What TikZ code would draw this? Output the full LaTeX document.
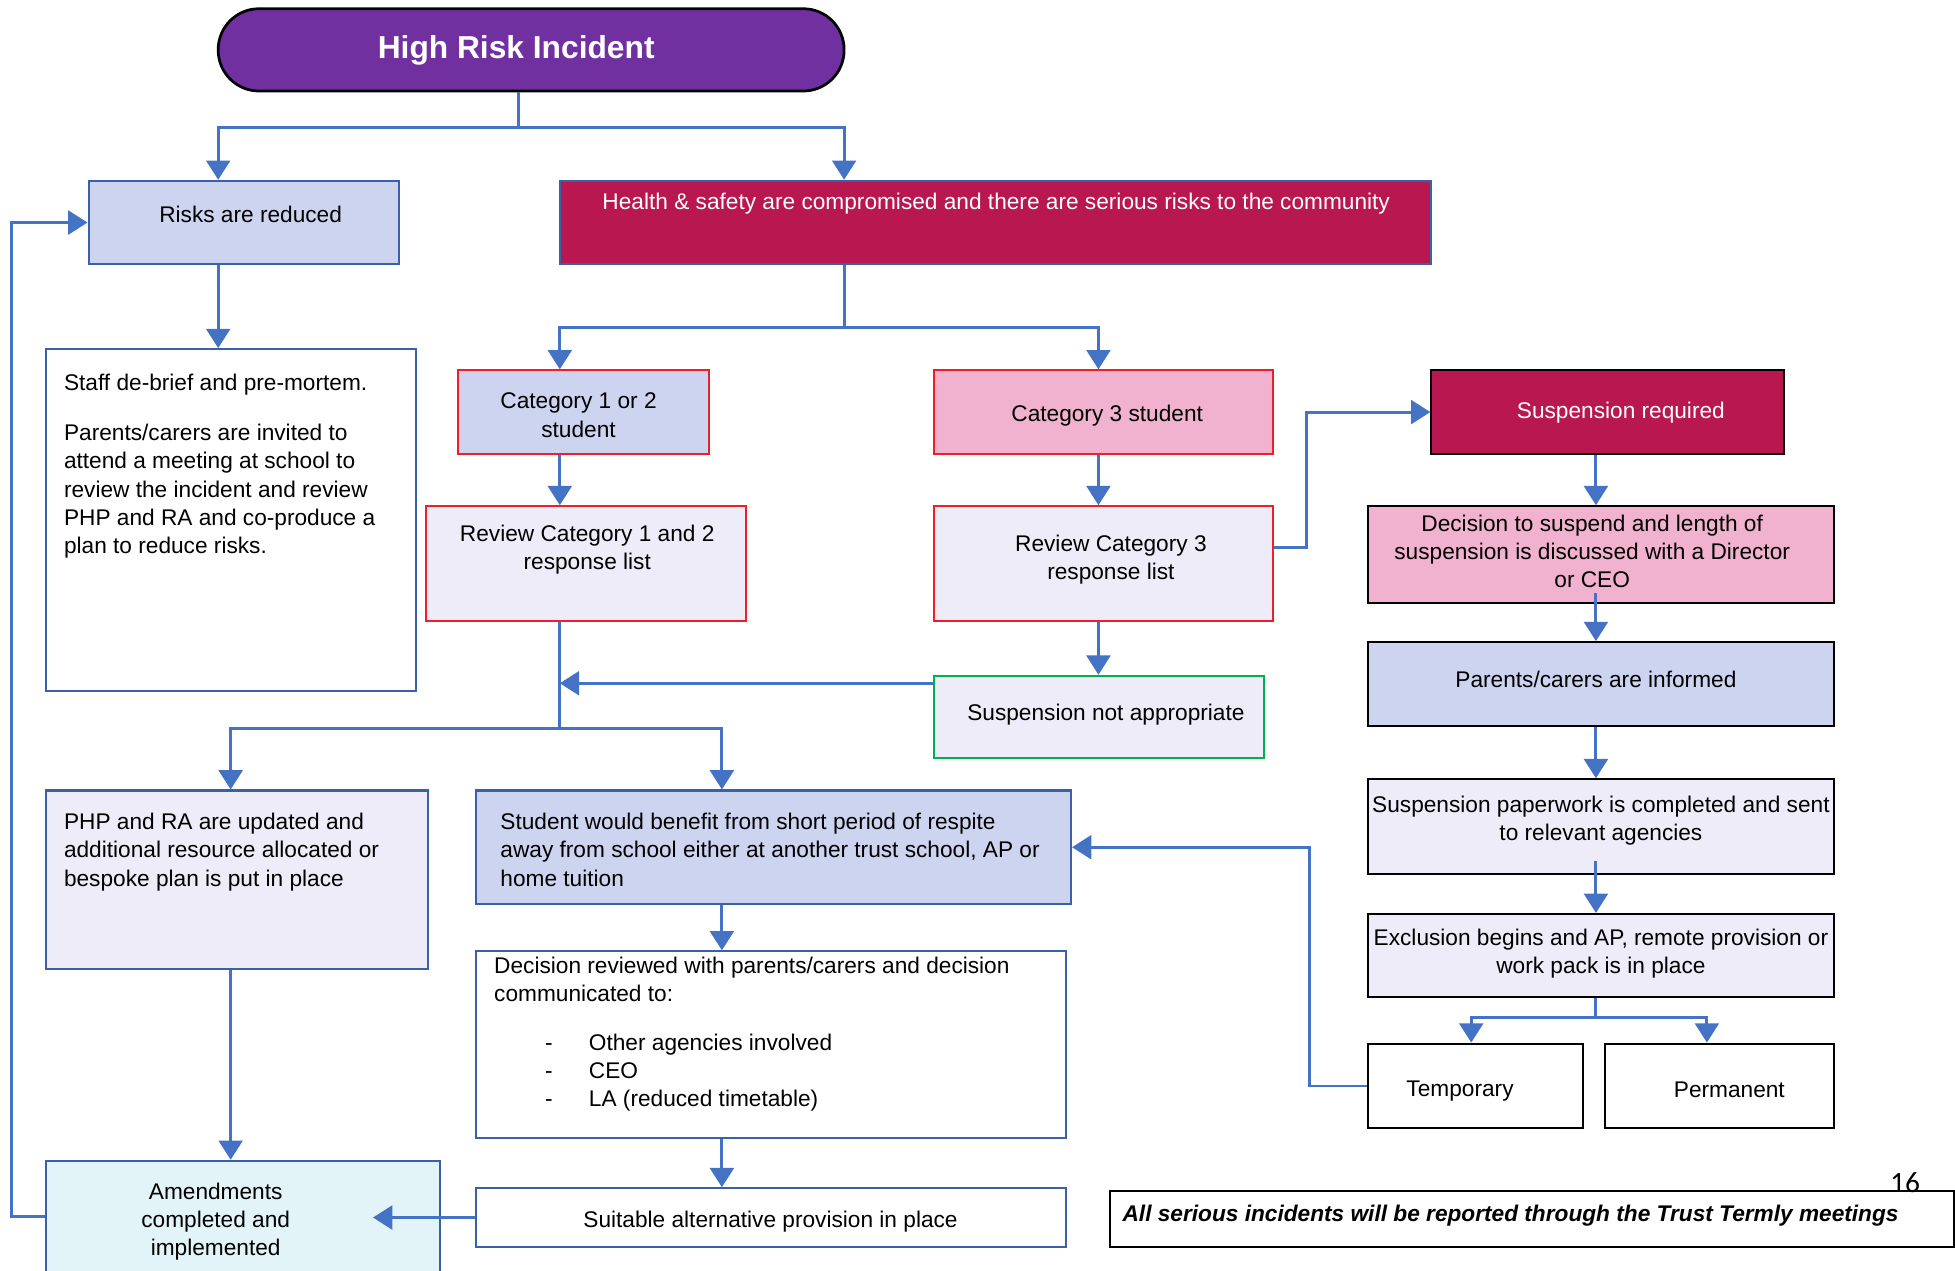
\documentclass[tikz,border=0pt]{standalone}
\usepackage{fontspec}
\setmainfont{Liberation Sans}
\newfontfamily\pagenumfont{Carlito}
\usetikzlibrary{arrows.meta,positioning,calc}
\definecolor{hripurple}{RGB}{112,48,160}
\definecolor{hricrimson}{RGB}{185,23,79}
\definecolor{hrilav}{RGB}{205,212,240}
\definecolor{hripale}{RGB}{238,236,248}
\definecolor{hripink}{RGB}{240,178,206}
\definecolor{hricyan}{RGB}{226,244,248}
\definecolor{hriline}{RGB}{68,114,196}
\definecolor{hriedge}{RGB}{60,95,170}
\definecolor{hrired}{RGB}{240,30,40}
\definecolor{hrigreen}{RGB}{0,176,80}

\newcommand{\pxu}{0.55pt}
\newcommand{\boxfont}{\fontsize{10}{12.4}\selectfont}

\tikzset{
  box/.style={draw=hriedge, line width=0.9pt, inner sep=0pt, align=center, font=\boxfont},
  sz/.style 2 args={minimum width=#1*\pxu, minimum height=#2*\pxu},
  txt/.style={inner sep=0pt, font=\boxfont},
  arr/.style={draw=hriline, line width=1.3pt, -{Triangle[width=10.5pt,length=8.5pt]}},
  ln/.style={draw=hriline, line width=1.3pt},
}

\begin{document}
\begin{tikzpicture}[x=\pxu, y=-\pxu]
				\clip (0,0) rectangle (1568,1019);
				
				% Titolo
				\node[box, draw=black, line width=1.2pt, fill=hripurple, rounded corners=18pt, sz={502}{66}] (title) at (426,40) {};
				\node[txt, text=white, font=\fontsize{14}{16}\selectfont\bfseries] (titletxt) at (414,40) {High Risk Incident};
				
				% Primo livello
				\node[box, fill=hrilav, sz={249}{67}] (risks) at (195.5,178.5) {};
				\node[txt] (riskstxt) at (201,172) {Risks are reduced};
				\node[box, fill=hricrimson, sz={699}{67}] (health) at (798.5,178.5) {};
				\node[txt, text=white] (healthtxt) at (799,163) {Health \& safety are compromised and there are serious risks to the community};
				
				\node[box, fill=white, sz={297}{274}] (staff) at (185.5,417) {};
				\node[txt, anchor=north west, align=left] (stafftxt) at (51,300) {Staff de-brief and pre-mortem.\\[9.6pt]Parents/carers are invited to\\attend a meeting at school to\\review the incident and review\\PHP and RA and co-produce a\\plan to reduce risks.};
				
				% Categorie
				\node[box, draw=hrired, fill=hrilav, sz={202}{67}] (cat12) at (468,330.5) {};
				\node[txt, align=center] (cat12txt) at (464,333) {Category 1 or 2\\student};
				\node[box, draw=hrired, fill=hripink, sz={272}{67}] (cat3) at (885,330.5) {};
				\node[txt] (cat3txt) at (888,333) {Category 3 student};
				\node[box, draw=hrired, fill=hripale, sz={256}{92}] (rev12) at (470,452) {};
				\node[txt, align=center] (rev12txt) at (471,441) {Review Category 1 and 2\\response list};
				\node[box, draw=hrired, fill=hripale, sz={272}{92}] (rev3) at (885,452) {};
				\node[txt, align=center] (rev3txt) at (891,449) {Review Category 3\\response list};
				\node[box, draw=hrigreen, fill=hripale, sz={265}{66}] (sna) at (881.5,575) {};
				\node[txt] (snatxt) at (887,573) {Suspension not appropriate};
				
				% Sospensione
				\node[box, draw=black, fill=hricrimson, sz={283}{67}] (suspreq) at (1289.5,330.5) {};
				\node[txt, text=white] (suspreqtxt) at (1300,331) {Suspension required};
				\node[box, draw=black, fill=hripink, sz={374}{78}] (decsusp) at (1284,445) {};
				\node[txt, align=center] (decsusptxt) at (1277,442) {Decision to suspend and length of\\suspension is discussed with a Director\\or CEO};
				\node[box, draw=black, fill=hrilav, sz={374}{67}] (parents) at (1284,548.5) {};
				\node[txt] (parentstxt) at (1280,545) {Parents/carers are informed};
				\node[box, draw=black, fill=hripale, sz={374}{76}] (paper) at (1284,663) {};
				\node[txt, align=center] (papertxt) at (1284,658) {Suspension paperwork is completed and sent\\to relevant agencies};
				\node[box, draw=black, fill=hripale, sz={374}{67}] (excl) at (1284,766.5) {};
				\node[txt, align=center] (excltxt) at (1284,765) {Exclusion begins and AP, remote provision or\\work pack is in place};
				\node[box, draw=black, fill=white, sz={173}{68}] (temp) at (1183.5,871) {};
				\node[txt] (temptxt) at (1171,875) {Temporary};
				\node[box, draw=black, fill=white, sz={184}{68}] (perm) at (1379,871) {};
				\node[txt] (permtxt) at (1387,874) {Permanent};
				
				% Parte bassa
				\node[box, fill=hripale, sz={306}{143}] (php) at (190,705.5) {};
				\node[txt, anchor=north west, align=left] (phptxt) at (51,652) {PHP and RA are updated and\\additional resource allocated or\\bespoke plan is put in place};
				\node[box, fill=hrilav, sz={477}{91}] (respite) at (620.5,679.5) {};
				\node[txt, anchor=north west, align=left] (respitetxt) at (401,652) {Student would benefit from short period of respite\\away from school either at another trust school, AP or\\home tuition};
				\node[box, fill=white, sz={473}{150}] (decrev) at (618.5,838) {};
				\node[txt, anchor=north west, align=left] (decrevtxt) at (396,767) {Decision reviewed with parents/carers and decision\\communicated to:\\[9.1pt]\hspace*{22.5pt}\makebox[19.3pt][l]{-}Other agencies involved\\\hspace*{22.5pt}\makebox[19.3pt][l]{-}CEO\\\hspace*{22.5pt}\makebox[19.3pt][l]{-}LA (reduced timetable)};
				\node[box, fill=white, sz={473}{47}] (suitable) at (618.5,976.5) {};
				\node[txt] (suitabletxt) at (618,980) {Suitable alternative provision in place};
				\node[box, fill=hricyan, sz={316}{100}] (amend) at (195,981) {};
				\node[txt, align=center] (amendtxt) at (173,980) {Amendments\\completed and\\implemented};
				
				% Nota finale
				\node[box, draw=black, line width=1pt, fill=white, sz={677}{45}] (footer) at (1228.5,977.5) {};
				\node[txt, anchor=west, font=\boxfont\bfseries\itshape] (footertxt) at (900,975) {All serious incidents will be reported through the Trust Termly meetings};
				\node[inner sep=0pt, font=\pagenumfont\fontsize{13}{15}\selectfont] (pagenum) at (1528,948.5) {16};
				
				% Colonne dei connettori
				\coordinate (cl) at (175,0);
				\coordinate (c12) at (449,0);
				\coordinate (c3) at (881,0);
				\coordinate (cs) at (1280,0);
				\coordinate (cph) at (185,0);
				\coordinate (cst) at (579,0);
				
				% Connettori
				\coordinate (s1) at (416,102);
				\draw[ln] (title.south -| s1) -- (s1);
				\draw[arr] (s1) -| (risks.north -| cl);
				\draw[arr] (s1) -| ([shift={(-121.5,0)}]health.north);
				\draw[arr] (risks.south -| cl) -- (staff.north -| cl);
				
				\coordinate (s2) at (677,263);
				\draw[ln] (health.south -| s2) -- (s2);
				\draw[arr] (s2) -| (cat12.north -| c12);
				\draw[arr] (s2) -| (cat3.north -| c3);
				\draw[arr] (cat12.south -| c12) -- (rev12.north -| c12);
				\draw[arr] (cat3.south -| c3) -- (rev3.north -| c3);
				\draw[arr] ([shift={(0,-13)}]rev3.east) -- ++(26,0) |- (suspreq.west);
				\draw[arr] (rev3.south -| c3) -- (sna.north -| c3);
				\coordinate (n1) at ([shift={(0,-27)}]sna.west);
				\draw[arr] (n1) -- (n1 -| c12);
				
				\coordinate (s3) at (449,584);
				\draw[ln] (rev12.south -| c12) -- (s3);
				\draw[arr] (s3) -| (php.north -| cph);
				\draw[arr] (s3) -| (respite.north -| cst);
				
				\draw[arr] (suspreq.south -| cs) -- (decsusp.north -| cs);
				\draw[arr] ([shift={(-4,-9)}]decsusp.south) -- (parents.north -| cs);
				\draw[arr] (parents.south -| cs) -- (paper.north -| cs);
				\draw[arr] ([shift={(-4,-11)}]paper.south) -- (excl.north -| cs);
				\coordinate (s4) at (1280,816);
				\draw[ln] (excl.south -| cs) -- (s4);
				\draw[arr] (s4) -| ([shift={(-3.5,0)}]temp.north);
				\draw[arr] (s4) -| ([shift={(-10,0)}]perm.north);
				\draw[arr] (temp.west) -- ++(-46,0) |- (respite.east);
				
				\draw[arr] (respite.south -| cst) -- (decrev.north -| cst);
				\draw[arr] (decrev.south -| cst) -- (suitable.north -| cst);
				\draw[arr] (php.south -| cph) -- (amend.north -| cph);
				\draw[arr] (suitable.west) -- ++(-82,0);
				\draw[arr] ([shift={(0,-5)}]amend.west) -- ++(-27,0) |- (risks.west);
			\end{tikzpicture}
\end{document}
